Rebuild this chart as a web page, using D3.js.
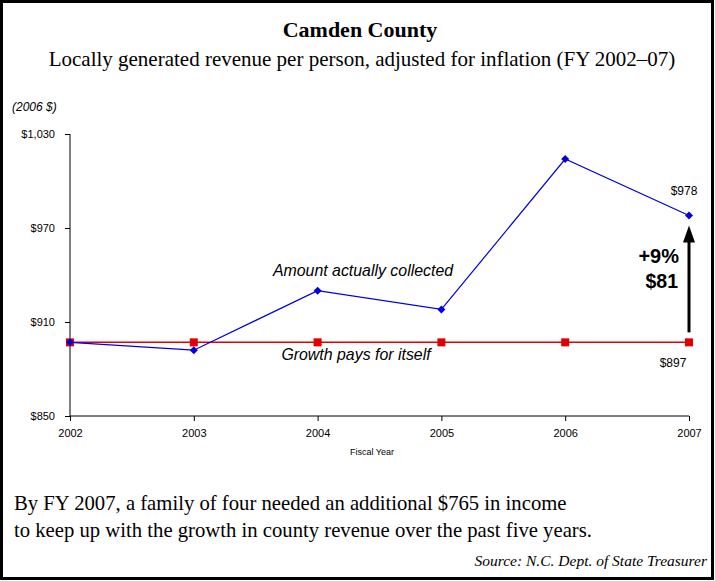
<!DOCTYPE html>
<html><head><meta charset="utf-8">
<script src="https://cdn.jsdelivr.net/npm/d3@7/dist/d3.min.js"></script>
<style>body{margin:0;background:#fff}svg{display:block}</style>
</head><body>
<script>
const years = [2002, 2003, 2004, 2005, 2006, 2007];
const actual = [897, 892, 930, 918, 1014, 978];
const growth = [897, 897, 897, 897, 897, 897];
const yTicks = [850, 910, 970, 1030];

const W = 715, H = 581;
const svg = d3.select("body").append("svg").attr("width", W).attr("height", H);
svg.append("rect").attr("x", 1.5).attr("y", 1.5).attr("width", W - 4).attr("height", H - 4)
  .attr("fill", "#fff").attr("stroke", "#000").attr("stroke-width", 3);

const x = d3.scalePoint().domain(years).range([70, 689]);
const y = d3.scaleLinear().domain([850, 1030]).range([416, 134]);

svg.append("text").attr("x", 360).attr("y", 37).attr("text-anchor", "middle")
  .attr("font-family", "Liberation Serif").attr("font-weight", "bold").attr("font-size", 22).text("Camden County");
svg.append("text").attr("x", 362).attr("y", 66).attr("text-anchor", "middle")
  .attr("font-family", "Liberation Serif").attr("font-size", 21).text("Locally generated revenue per person, adjusted for inflation (FY 2002–07)");
svg.append("text").attr("x", 12).attr("y", 111)
  .attr("font-family", "Liberation Sans").attr("font-style", "italic").attr("font-size", 12).text("(2006 $)");

const yAxis = svg.append("g").attr("transform", "translate(70,0)")
  .call(d3.axisLeft(y).tickValues(yTicks).tickSize(5).tickPadding(10).tickFormat(d => "$" + d3.format(",")(d)));
const xAxis = svg.append("g").attr("transform", "translate(0,416)")
  .call(d3.axisBottom(x).tickSize(5).tickPadding(6).tickFormat(d => d));
[yAxis, xAxis].forEach(g => {
  g.selectAll("path,line").attr("stroke", "#000");
  g.selectAll("text").attr("font-family", "Liberation Sans").attr("font-size", 11).attr("fill", "#000");
  g.select(".domain").attr("d", g === yAxis ? "M0,416V134" : "M70,0H689");
});
xAxis.selectAll("text").attr("dy", "0.9em");
svg.append("text").attr("x", 372).attr("y", 455).attr("text-anchor", "middle")
  .attr("font-family", "Liberation Sans").attr("font-size", 9).text("Fiscal Year");

const line = d3.line().x((d, i) => x(years[i])).y(d => y(d));
svg.append("path").datum(growth).attr("d", line).attr("fill", "none").attr("stroke", "#e00000").attr("stroke-width", 1.5);
svg.append("path").datum(actual).attr("d", line).attr("fill", "none").attr("stroke", "#0000e0").attr("stroke-width", 1.2);
svg.selectAll(".sq").data(growth).enter().append("rect")
  .attr("x", (d, i) => x(years[i]) - 4).attr("y", d => y(d) - 4).attr("width", 8).attr("height", 8).attr("fill", "#e00000");
svg.selectAll(".dm").data(actual).enter().append("path")
  .attr("d", (d, i) => { const cx = x(years[i]), cy = y(d); return `M${cx},${cy-4}L${cx+4},${cy}L${cx},${cy+4}L${cx-4},${cy}Z`; })
  .attr("fill", "#0000e0");

const it = (tx, ty, t, anchor) => svg.append("text").attr("x", tx).attr("y", ty).attr("text-anchor", anchor || "middle")
  .attr("font-family", "Liberation Sans").attr("font-style", "italic").attr("font-size", 15.9).text(t);
it(363, 276, "Amount actually collected");
it(356, 360, "Growth pays for itself");

const lab = (tx, ty, t, anchor) => svg.append("text").attr("x", tx).attr("y", ty).attr("text-anchor", anchor)
  .attr("font-family", "Liberation Sans").attr("font-size", 12).text(t);
lab(684, 195, "$" + actual[5], "middle");
lab(673, 367, "$" + growth[5], "middle");

// arrow
const ax = x(2007);
svg.append("line").attr("x1", ax).attr("x2", ax).attr("y1", y(growth[5]) - 10).attr("y2", y(actual[5]) + 22)
  .attr("stroke", "#000").attr("stroke-width", 3);
svg.append("path").attr("d", `M${ax},${y(actual[5]) + 10}L${ax+6},${y(actual[5]) + 27}L${ax-6},${y(actual[5]) + 27}Z`).attr("fill", "#000");
const diff = actual[5] - growth[5];
const pct = Math.round(diff / growth[5] * 100);
svg.append("text").attr("x", 679).attr("y", 263).attr("text-anchor", "end").attr("font-family", "Liberation Sans")
  .attr("font-weight", "bold").attr("font-size", 20).text("+" + pct + "%");
svg.append("text").attr("x", 678).attr("y", 288).attr("text-anchor", "end").attr("font-family", "Liberation Sans")
  .attr("font-weight", "bold").attr("font-size", 19.5).text("$" + diff);

const serif = (tx, ty, t) => svg.append("text").attr("x", tx).attr("y", ty)
  .attr("font-family", "Liberation Serif").attr("font-size", 20.7).text(t);
serif(14, 510, "By FY 2007, a family of four needed an additional $765 in income");
serif(14, 537, "to keep up with the growth in county revenue over the past five years.");
svg.append("text").attr("x", 707).attr("y", 566).attr("text-anchor", "end")
  .attr("font-family", "Liberation Serif").attr("font-style", "italic").attr("font-size", 15.5).text("Source: N.C. Dept. of State Treasurer");
</script>
</body></html>
